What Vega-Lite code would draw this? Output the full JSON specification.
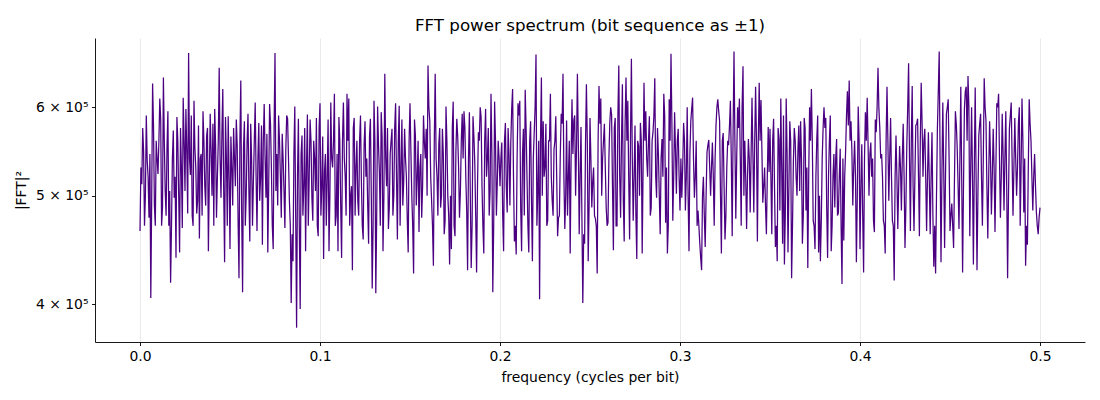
{
  "$schema": "https://vega.github.io/schema/vega-lite/v6.json",
  "width": 990,
  "height": 304,
  "autosize": {"type": "none"},
  "padding": {"left": 95, "top": 38, "right": 15, "bottom": 58},
  "background": "white",
  "title": {
    "text": "FFT power spectrum (bit sequence as ±1)",
    "font": "DejaVu Sans",
    "fontSize": 16.7,
    "fontWeight": "normal",
    "color": "black",
    "offset": 3
  },
  "data": {
    "values": [
      {"f":0.000,"p":465000},{"f":0.001,"p":512000},{"f":0.002,"p":548000},{"f":0.003,"p":500000},{"f":0.004,"p":538000},
      {"f":0.005,"p":478000},{"f":0.006,"p":405000},{"f":0.007,"p":630000},{"f":0.008,"p":490000},{"f":0.009,"p":560000},
      {"f":0.010,"p":523000},{"f":0.011,"p":611000},{"f":0.012,"p":470000},{"f":0.013,"p":638000},{"f":0.014,"p":505000},
      {"f":0.015,"p":552000},{"f":0.016,"p":470000},{"f":0.017,"p":418000},{"f":0.018,"p":540000},{"f":0.019,"p":498000},
      {"f":0.020,"p":440000},{"f":0.021,"p":560000},{"f":0.022,"p":445000},{"f":0.023,"p":530000},{"f":0.024,"p":612000},
      {"f":0.025,"p":505000},{"f":0.026,"p":548000},{"f":0.027,"p":671000},{"f":0.028,"p":522000},{"f":0.029,"p":480000},
      {"f":0.030,"p":608000},{"f":0.031,"p":530000},{"f":0.032,"p":495000},{"f":0.033,"p":458000},{"f":0.034,"p":545000},
      {"f":0.035,"p":595000},{"f":0.036,"p":510000},{"f":0.037,"p":565000},{"f":0.038,"p":446000},{"f":0.039,"p":592000},
      {"f":0.040,"p":500000},{"f":0.041,"p":470000},{"f":0.042,"p":555000},{"f":0.043,"p":520000},{"f":0.044,"p":651000},
      {"f":0.045,"p":498000},{"f":0.046,"p":623000},{"f":0.047,"p":436000},{"f":0.048,"p":540000},{"f":0.049,"p":589000},
      {"f":0.050,"p":448000},{"f":0.051,"p":530000},{"f":0.052,"p":575000},{"f":0.053,"p":510000},{"f":0.054,"p":555000},
      {"f":0.055,"p":422000},{"f":0.056,"p":634000},{"f":0.057,"p":410000},{"f":0.058,"p":583000},{"f":0.059,"p":500000},
      {"f":0.060,"p":592000},{"f":0.061,"p":455000},{"f":0.062,"p":540000},{"f":0.063,"p":515000},{"f":0.064,"p":606000},
      {"f":0.065,"p":465000},{"f":0.066,"p":581000},{"f":0.067,"p":520000},{"f":0.068,"p":452000},{"f":0.069,"p":604000},
      {"f":0.070,"p":498000},{"f":0.071,"p":445000},{"f":0.072,"p":604000},{"f":0.073,"p":530000},{"f":0.074,"p":448000},
      {"f":0.075,"p":671000},{"f":0.076,"p":545000},{"f":0.077,"p":590000},{"f":0.078,"p":520000},{"f":0.079,"p":568000},
      {"f":0.080,"p":505000},{"f":0.081,"p":550000},{"f":0.082,"p":586000},{"f":0.083,"p":495000},{"f":0.084,"p":401000},
      {"f":0.085,"p":437000},{"f":0.086,"p":601000},{"f":0.087,"p":381000},{"f":0.088,"p":586000},{"f":0.089,"p":396000},
      {"f":0.090,"p":566000},{"f":0.091,"p":510000},{"f":0.092,"p":446000},{"f":0.093,"p":591000},{"f":0.094,"p":520000},
      {"f":0.095,"p":560000},{"f":0.096,"p":475000},{"f":0.097,"p":540000},{"f":0.098,"p":587000},{"f":0.099,"p":460000},
      {"f":0.100,"p":605000},{"f":0.101,"p":510000},{"f":0.102,"p":439000},{"f":0.103,"p":545000},{"f":0.104,"p":520000},
      {"f":0.105,"p":446000},{"f":0.106,"p":606000},{"f":0.107,"p":530000},{"f":0.108,"p":617000},{"f":0.109,"p":480000},
      {"f":0.110,"p":446000},{"f":0.111,"p":560000},{"f":0.112,"p":440000},{"f":0.113,"p":606000},{"f":0.114,"p":520000},
      {"f":0.115,"p":617000},{"f":0.116,"p":611000},{"f":0.117,"p":500000},{"f":0.118,"p":429000},{"f":0.119,"p":587000},
      {"f":0.120,"p":530000},{"f":0.121,"p":495000},{"f":0.122,"p":560000},{"f":0.123,"p":515000},{"f":0.124,"p":457000},
      {"f":0.125,"p":583000},{"f":0.126,"p":540000},{"f":0.127,"p":453000},{"f":0.128,"p":586000},{"f":0.129,"p":413000},
      {"f":0.130,"p":608000},{"f":0.131,"p":409000},{"f":0.132,"p":601000},{"f":0.133,"p":525000},{"f":0.134,"p":594000},
      {"f":0.135,"p":446000},{"f":0.136,"p":643000},{"f":0.137,"p":510000},{"f":0.138,"p":467000},{"f":0.139,"p":545000},
      {"f":0.140,"p":574000},{"f":0.141,"p":500000},{"f":0.142,"p":605000},{"f":0.143,"p":457000},{"f":0.144,"p":602000},
      {"f":0.145,"p":530000},{"f":0.146,"p":490000},{"f":0.147,"p":574000},{"f":0.148,"p":520000},{"f":0.149,"p":445000},
      {"f":0.150,"p":605000},{"f":0.151,"p":500000},{"f":0.152,"p":426000},{"f":0.153,"p":566000},{"f":0.154,"p":520000},
      {"f":0.155,"p":464000},{"f":0.156,"p":545000},{"f":0.157,"p":510000},{"f":0.158,"p":558000},{"f":0.159,"p":574000},
      {"f":0.160,"p":654000},{"f":0.161,"p":583000},{"f":0.162,"p":495000},{"f":0.163,"p":433000},{"f":0.164,"p":643000},
      {"f":0.165,"p":520000},{"f":0.166,"p":556000},{"f":0.167,"p":488000},{"f":0.168,"p":574000},{"f":0.169,"p":462000},
      {"f":0.170,"p":601000},{"f":0.171,"p":500000},{"f":0.172,"p":434000},{"f":0.173,"p":448000},{"f":0.174,"p":607000},
      {"f":0.175,"p":460000},{"f":0.176,"p":586000},{"f":0.177,"p":530000},{"f":0.178,"p":505000},{"f":0.179,"p":592000},
      {"f":0.180,"p":595000},{"f":0.181,"p":520000},{"f":0.182,"p":429000},{"f":0.183,"p":594000},{"f":0.184,"p":431000},
      {"f":0.185,"p":589000},{"f":0.186,"p":535000},{"f":0.187,"p":427000},{"f":0.188,"p":570000},{"f":0.189,"p":600000},
      {"f":0.190,"p":510000},{"f":0.191,"p":444000},{"f":0.192,"p":598000},{"f":0.193,"p":540000},{"f":0.194,"p":480000},
      {"f":0.195,"p":617000},{"f":0.196,"p":410000},{"f":0.197,"p":607000},{"f":0.198,"p":480000},{"f":0.199,"p":560000},
      {"f":0.200,"p":510000},{"f":0.201,"p":558000},{"f":0.202,"p":446000},{"f":0.203,"p":581000},{"f":0.204,"p":483000},
      {"f":0.205,"p":545000},{"f":0.206,"p":558000},{"f":0.207,"p":623000},{"f":0.208,"p":455000},{"f":0.209,"p":443000},
      {"f":0.210,"p":605000},{"f":0.211,"p":608000},{"f":0.212,"p":446000},{"f":0.213,"p":574000},{"f":0.214,"p":622000},
      {"f":0.215,"p":520000},{"f":0.216,"p":445000},{"f":0.217,"p":583000},{"f":0.218,"p":437000},{"f":0.219,"p":569000},
      {"f":0.220,"p":669000},{"f":0.221,"p":505000},{"f":0.222,"p":404000},{"f":0.223,"p":638000},{"f":0.224,"p":583000},
      {"f":0.225,"p":530000},{"f":0.226,"p":470000},{"f":0.227,"p":560000},{"f":0.228,"p":617000},{"f":0.229,"p":495000},
      {"f":0.230,"p":550000},{"f":0.231,"p":589000},{"f":0.232,"p":460000},{"f":0.233,"p":480000},{"f":0.234,"p":592000},
      {"f":0.235,"p":643000},{"f":0.236,"p":467000},{"f":0.237,"p":584000},{"f":0.238,"p":520000},{"f":0.239,"p":444000},
      {"f":0.240,"p":610000},{"f":0.241,"p":584000},{"f":0.242,"p":500000},{"f":0.243,"p":643000},{"f":0.244,"p":462000},
      {"f":0.245,"p":576000},{"f":0.246,"p":401000},{"f":0.247,"p":453000},{"f":0.248,"p":629000},{"f":0.249,"p":437000},
      {"f":0.250,"p":587000},{"f":0.251,"p":488000},{"f":0.252,"p":530000},{"f":0.253,"p":477000},{"f":0.254,"p":426000},
      {"f":0.255,"p":627000},{"f":0.256,"p":611000},{"f":0.257,"p":540000},{"f":0.258,"p":580000},{"f":0.259,"p":488000},
      {"f":0.260,"p":473000},{"f":0.261,"p":581000},{"f":0.262,"p":591000},{"f":0.263,"p":447000},{"f":0.264,"p":587000},
      {"f":0.265,"p":470000},{"f":0.266,"p":654000},{"f":0.267,"p":478000},{"f":0.268,"p":629000},{"f":0.269,"p":455000},
      {"f":0.270,"p":638000},{"f":0.271,"p":608000},{"f":0.272,"p":457000},{"f":0.273,"p":663000},{"f":0.274,"p":475000},
      {"f":0.275,"p":578000},{"f":0.276,"p":439000},{"f":0.277,"p":554000},{"f":0.278,"p":581000},{"f":0.279,"p":444000},
      {"f":0.280,"p":631000},{"f":0.281,"p":595000},{"f":0.282,"p":520000},{"f":0.283,"p":589000},{"f":0.284,"p":488000},
      {"f":0.285,"p":570000},{"f":0.286,"p":637000},{"f":0.287,"p":498000},{"f":0.288,"p":545000},{"f":0.289,"p":462000},
      {"f":0.290,"p":562000},{"f":0.291,"p":617000},{"f":0.292,"p":473000},{"f":0.293,"p":444000},{"f":0.294,"p":610000},
      {"f":0.295,"p":670000},{"f":0.296,"p":475000},{"f":0.297,"p":594000},{"f":0.298,"p":502000},{"f":0.299,"p":574000},
      {"f":0.300,"p":485000},{"f":0.301,"p":498000},{"f":0.302,"p":581000},{"f":0.303,"p":485000},{"f":0.304,"p":600000},
      {"f":0.305,"p":446000},{"f":0.306,"p":583000},{"f":0.307,"p":612000},{"f":0.308,"p":498000},{"f":0.309,"p":560000},
      {"f":0.310,"p":485000},{"f":0.311,"p":453000},{"f":0.312,"p":429000},{"f":0.313,"p":520000},{"f":0.314,"p":450000},
      {"f":0.315,"p":547000},{"f":0.316,"p":561000},{"f":0.317,"p":500000},{"f":0.318,"p":558000},{"f":0.319,"p":470000},
      {"f":0.320,"p":578000},{"f":0.321,"p":610000},{"f":0.322,"p":583000},{"f":0.323,"p":444000},{"f":0.324,"p":569000},
      {"f":0.325,"p":457000},{"f":0.326,"p":530000},{"f":0.327,"p":555000},{"f":0.328,"p":608000},{"f":0.329,"p":460000},
      {"f":0.330,"p":673000},{"f":0.331,"p":477000},{"f":0.332,"p":600000},{"f":0.333,"p":611000},{"f":0.334,"p":470000},
      {"f":0.335,"p":653000},{"f":0.336,"p":560000},{"f":0.337,"p":467000},{"f":0.338,"p":562000},{"f":0.339,"p":483000},
      {"f":0.340,"p":612000},{"f":0.341,"p":483000},{"f":0.342,"p":626000},{"f":0.343,"p":455000},{"f":0.344,"p":631000},
      {"f":0.345,"p":609000},{"f":0.346,"p":493000},{"f":0.347,"p":530000},{"f":0.348,"p":462000},{"f":0.349,"p":576000},
      {"f":0.350,"p":574000},{"f":0.351,"p":462000},{"f":0.352,"p":586000},{"f":0.353,"p":450000},{"f":0.354,"p":437000},
      {"f":0.355,"p":562000},{"f":0.356,"p":611000},{"f":0.357,"p":453000},{"f":0.358,"p":434000},{"f":0.359,"p":611000},
      {"f":0.360,"p":445000},{"f":0.361,"p":583000},{"f":0.362,"p":422000},{"f":0.363,"p":537000},{"f":0.364,"p":560000},
      {"f":0.365,"p":500000},{"f":0.366,"p":578000},{"f":0.367,"p":583000},{"f":0.368,"p":453000},{"f":0.369,"p":587000},
      {"f":0.370,"p":485000},{"f":0.371,"p":431000},{"f":0.372,"p":600000},{"f":0.373,"p":623000},{"f":0.374,"p":475000},
      {"f":0.375,"p":448000},{"f":0.376,"p":562000},{"f":0.377,"p":445000},{"f":0.378,"p":437000},{"f":0.379,"p":540000},
      {"f":0.380,"p":600000},{"f":0.381,"p":587000},{"f":0.382,"p":440000},{"f":0.383,"p":560000},{"f":0.384,"p":446000},
      {"f":0.385,"p":520000},{"f":0.386,"p":488000},{"f":0.387,"p":562000},{"f":0.388,"p":483000},{"f":0.389,"p":551000},
      {"f":0.390,"p":417000},{"f":0.391,"p":456000},{"f":0.392,"p":548000},{"f":0.393,"p":620000},{"f":0.394,"p":634000},
      {"f":0.395,"p":583000},{"f":0.396,"p":490000},{"f":0.397,"p":560000},{"f":0.398,"p":436000},{"f":0.399,"p":601000},
      {"f":0.400,"p":448000},{"f":0.401,"p":556000},{"f":0.402,"p":427000},{"f":0.403,"p":594000},{"f":0.404,"p":612000},
      {"f":0.405,"p":500000},{"f":0.406,"p":558000},{"f":0.407,"p":540000},{"f":0.408,"p":464000},{"f":0.409,"p":570000},
      {"f":0.410,"p":651000},{"f":0.411,"p":575000},{"f":0.412,"p":545000},{"f":0.413,"p":475000},{"f":0.414,"p":444000},
      {"f":0.415,"p":626000},{"f":0.416,"p":495000},{"f":0.417,"p":587000},{"f":0.418,"p":475000},{"f":0.419,"p":420000},
      {"f":0.420,"p":566000},{"f":0.421,"p":467000},{"f":0.422,"p":554000},{"f":0.423,"p":485000},{"f":0.424,"p":580000},
      {"f":0.425,"p":449000},{"f":0.426,"p":554000},{"f":0.427,"p":657000},{"f":0.428,"p":465000},{"f":0.429,"p":627000},
      {"f":0.430,"p":465000},{"f":0.431,"p":578000},{"f":0.432,"p":586000},{"f":0.433,"p":460000},{"f":0.434,"p":631000},
      {"f":0.435,"p":520000},{"f":0.436,"p":574000},{"f":0.437,"p":465000},{"f":0.438,"p":570000},{"f":0.439,"p":462000},
      {"f":0.440,"p":570000},{"f":0.441,"p":432000},{"f":0.442,"p":426000},{"f":0.443,"p":574000},{"f":0.444,"p":673000},
      {"f":0.445,"p":436000},{"f":0.446,"p":606000},{"f":0.447,"p":449000},{"f":0.448,"p":592000},{"f":0.449,"p":610000},
      {"f":0.450,"p":465000},{"f":0.451,"p":492000},{"f":0.452,"p":449000},{"f":0.453,"p":595000},{"f":0.454,"p":552000},
      {"f":0.455,"p":467000},{"f":0.456,"p":626000},{"f":0.457,"p":427000},{"f":0.458,"p":598000},{"f":0.459,"p":626000},
      {"f":0.460,"p":640000},{"f":0.461,"p":460000},{"f":0.462,"p":600000},{"f":0.463,"p":434000},{"f":0.464,"p":625000},
      {"f":0.465,"p":429000},{"f":0.466,"p":566000},{"f":0.467,"p":592000},{"f":0.468,"p":470000},{"f":0.469,"p":637000},
      {"f":0.470,"p":583000},{"f":0.471,"p":458000},{"f":0.472,"p":583000},{"f":0.473,"p":481000},{"f":0.474,"p":574000},
      {"f":0.475,"p":464000},{"f":0.476,"p":605000},{"f":0.477,"p":617000},{"f":0.478,"p":478000},{"f":0.479,"p":592000},
      {"f":0.480,"p":485000},{"f":0.481,"p":595000},{"f":0.482,"p":422000},{"f":0.483,"p":574000},{"f":0.484,"p":606000},
      {"f":0.485,"p":480000},{"f":0.486,"p":587000},{"f":0.487,"p":500000},{"f":0.488,"p":580000},{"f":0.489,"p":470000},
      {"f":0.490,"p":611000},{"f":0.491,"p":483000},{"f":0.492,"p":433000},{"f":0.493,"p":452000},{"f":0.494,"p":610000},
      {"f":0.495,"p":560000},{"f":0.496,"p":485000},{"f":0.497,"p":545000},{"f":0.498,"p":483000},{"f":0.499,"p":462000},
      {"f":0.500,"p":488000},
      {"f":0.0005,"p":530000},{"f":0.0015,"p":575000},{"f":0.0025,"p":470000},{"f":0.0035,"p":590000},{"f":0.0045,"p":520000},
      {"f":0.0055,"p":545000},{"f":0.0065,"p":498000},{"f":0.0075,"p":578000},{"f":0.0085,"p":470000},{"f":0.0095,"p":540000},
      {"f":0.0105,"p":560000},{"f":0.0115,"p":585000},{"f":0.0125,"p":488000},{"f":0.0135,"p":560000},{"f":0.0145,"p":480000},
      {"f":0.0155,"p":595000},{"f":0.0165,"p":505000},{"f":0.0175,"p":470000},{"f":0.0185,"p":572000},{"f":0.0195,"p":520000},
      {"f":0.0205,"p":588000},{"f":0.0215,"p":500000},{"f":0.0225,"p":575000},{"f":0.0235,"p":468000},{"f":0.0245,"p":560000},
      {"f":0.0255,"p":598000},{"f":0.0265,"p":482000},{"f":0.0275,"p":540000},{"f":0.0285,"p":590000},{"f":0.0295,"p":470000},
      {"f":0.0305,"p":552000},{"f":0.0315,"p":482000},{"f":0.0325,"p":578000},{"f":0.0335,"p":540000},{"f":0.0345,"p":480000},
      {"f":0.0355,"p":560000},{"f":0.0365,"p":490000},{"f":0.0375,"p":575000},{"f":0.0385,"p":515000},{"f":0.0395,"p":548000},
      {"f":0.0405,"p":580000},{"f":0.0415,"p":598000},{"f":0.0425,"p":478000},{"f":0.0435,"p":560000},{"f":0.0445,"p":540000},
      {"f":0.0455,"p":568000},{"f":0.0465,"p":505000},{"f":0.0475,"p":588000},{"f":0.0485,"p":470000},{"f":0.0495,"p":520000},
      {"f":0.0505,"p":565000},{"f":0.0515,"p":490000},{"f":0.0525,"p":540000},{"f":0.0535,"p":585000},{"f":0.0545,"p":475000},
      {"f":0.0555,"p":560000},{"f":0.0565,"p":480000},{"f":0.0575,"p":552000},{"f":0.0585,"p":470000},{"f":0.0595,"p":560000},
      {"f":0.0605,"p":505000},{"f":0.0615,"p":580000},{"f":0.0625,"p":470000},{"f":0.0635,"p":560000},{"f":0.0645,"p":520000},
      {"f":0.0655,"p":540000},{"f":0.0665,"p":495000},{"f":0.0675,"p":578000},{"f":0.0685,"p":560000},{"f":0.0695,"p":540000},
      {"f":0.0705,"p":568000},{"f":0.0715,"p":510000},{"f":0.0725,"p":580000},{"f":0.0735,"p":470000},{"f":0.0745,"p":575000},
      {"f":0.0755,"p":505000},{"f":0.0765,"p":490000},{"f":0.0775,"p":560000},{"f":0.0785,"p":478000},{"f":0.0795,"p":540000},
      {"f":0.0805,"p":468000},{"f":0.0815,"p":590000},{"f":0.0825,"p":540000},{"f":0.0835,"p":470000},{"f":0.0845,"p":462000},
      {"f":0.0855,"p":545000},{"f":0.0865,"p":478000},{"f":0.0875,"p":520000},{"f":0.0885,"p":470000},{"f":0.0895,"p":545000},
      {"f":0.0905,"p":480000},{"f":0.0915,"p":575000},{"f":0.0925,"p":530000},{"f":0.0935,"p":470000},{"f":0.0945,"p":585000},
      {"f":0.0955,"p":498000},{"f":0.0965,"p":560000},{"f":0.0975,"p":505000},{"f":0.0985,"p":470000},{"f":0.0995,"p":575000},
      {"f":0.1005,"p":480000},{"f":0.1015,"p":565000},{"f":0.1025,"p":525000},{"f":0.1035,"p":470000},{"f":0.1045,"p":585000},
      {"f":0.1055,"p":500000},{"f":0.1065,"p":540000},{"f":0.1075,"p":560000},{"f":0.1085,"p":470000},{"f":0.1095,"p":545000},
      {"f":0.1105,"p":588000},{"f":0.1115,"p":490000},{"f":0.1125,"p":560000},{"f":0.1135,"p":540000},{"f":0.1145,"p":480000},
      {"f":0.1155,"p":560000},{"f":0.1165,"p":470000},{"f":0.1175,"p":510000},{"f":0.1185,"p":575000},{"f":0.1195,"p":480000},
      {"f":0.1205,"p":560000},{"f":0.1215,"p":480000},{"f":0.1225,"p":590000},{"f":0.1235,"p":470000},{"f":0.1245,"p":555000},
      {"f":0.1255,"p":520000},{"f":0.1265,"p":490000},{"f":0.1275,"p":565000},{"f":0.1285,"p":500000},{"f":0.1295,"p":470000},
      {"f":0.1305,"p":560000},{"f":0.1315,"p":480000},{"f":0.1325,"p":555000},{"f":0.1335,"p":470000},{"f":0.1345,"p":565000},
      {"f":0.1355,"p":500000},{"f":0.1365,"p":540000},{"f":0.1375,"p":575000},{"f":0.1385,"p":488000},{"f":0.1395,"p":560000},
      {"f":0.1405,"p":480000},{"f":0.1415,"p":575000},{"f":0.1425,"p":520000},{"f":0.1435,"p":560000},{"f":0.1445,"p":470000},
      {"f":0.1455,"p":585000},{"f":0.1465,"p":515000},{"f":0.1475,"p":540000},{"f":0.1485,"p":475000},{"f":0.1495,"p":560000},
      {"f":0.1505,"p":548000},{"f":0.1515,"p":470000},{"f":0.1525,"p":585000},{"f":0.1535,"p":490000},{"f":0.1545,"p":560000},
      {"f":0.1555,"p":530000},{"f":0.1565,"p":478000},{"f":0.1575,"p":590000},{"f":0.1585,"p":540000},{"f":0.1595,"p":500000},
      {"f":0.1605,"p":600000},{"f":0.1615,"p":520000},{"f":0.1625,"p":470000},{"f":0.1635,"p":560000},{"f":0.1645,"p":540000},
      {"f":0.1655,"p":480000},{"f":0.1665,"p":575000},{"f":0.1675,"p":500000},{"f":0.1685,"p":545000},{"f":0.1695,"p":475000},
      {"f":0.1705,"p":560000},{"f":0.1715,"p":480000},{"f":0.1725,"p":500000},{"f":0.1735,"p":575000},{"f":0.1745,"p":470000},
      {"f":0.1755,"p":548000},{"f":0.1765,"p":565000},{"f":0.1775,"p":478000},{"f":0.1785,"p":560000},{"f":0.1795,"p":540000},
      {"f":0.1805,"p":575000},{"f":0.1815,"p":485000},{"f":0.1825,"p":540000},{"f":0.1835,"p":500000},{"f":0.1845,"p":470000},
      {"f":0.1855,"p":565000},{"f":0.1865,"p":480000},{"f":0.1875,"p":510000},{"f":0.1885,"p":560000},{"f":0.1895,"p":588000},
      {"f":0.1905,"p":470000},{"f":0.1915,"p":560000},{"f":0.1925,"p":520000},{"f":0.1935,"p":575000},{"f":0.1945,"p":505000},
      {"f":0.1955,"p":545000},{"f":0.1965,"p":470000},{"f":0.1975,"p":560000},{"f":0.1985,"p":515000},{"f":0.1995,"p":540000},
      {"f":0.2005,"p":540000},{"f":0.2015,"p":480000},{"f":0.2025,"p":560000},{"f":0.2035,"p":510000},{"f":0.2045,"p":575000},
      {"f":0.2055,"p":490000},{"f":0.2065,"p":598000},{"f":0.2075,"p":520000},{"f":0.2085,"p":470000},{"f":0.2095,"p":540000},
      {"f":0.2105,"p":590000},{"f":0.2115,"p":488000},{"f":0.2125,"p":545000},{"f":0.2135,"p":480000},{"f":0.2145,"p":575000},
      {"f":0.2155,"p":470000},{"f":0.2165,"p":560000},{"f":0.2175,"p":495000},{"f":0.2185,"p":540000},{"f":0.2195,"p":600000},
      {"f":0.2205,"p":470000},{"f":0.2215,"p":560000},{"f":0.2225,"p":560000},{"f":0.2235,"p":500000},{"f":0.2245,"p":520000},
      {"f":0.2255,"p":580000},{"f":0.2265,"p":475000},{"f":0.2275,"p":560000},{"f":0.2285,"p":520000},{"f":0.2295,"p":480000},
      {"f":0.2305,"p":560000},{"f":0.2315,"p":520000},{"f":0.2325,"p":478000},{"f":0.2335,"p":545000},{"f":0.2345,"p":580000},
      {"f":0.2355,"p":520000},{"f":0.2365,"p":500000},{"f":0.2375,"p":480000},{"f":0.2385,"p":560000},{"f":0.2395,"p":540000},
      {"f":0.2405,"p":545000},{"f":0.2415,"p":590000},{"f":0.2425,"p":550000},{"f":0.2435,"p":560000},{"f":0.2445,"p":520000},
      {"f":0.2455,"p":480000},{"f":0.2465,"p":462000},{"f":0.2475,"p":555000},{"f":0.2485,"p":560000},{"f":0.2495,"p":490000},
      {"f":0.2505,"p":540000},{"f":0.2515,"p":515000},{"f":0.2525,"p":480000},{"f":0.2535,"p":470000},{"f":0.2545,"p":560000},
      {"f":0.2555,"p":580000},{"f":0.2565,"p":500000},{"f":0.2575,"p":560000},{"f":0.2585,"p":530000},{"f":0.2595,"p":470000},
      {"f":0.2605,"p":540000},{"f":0.2615,"p":600000},{"f":0.2625,"p":510000},{"f":0.2635,"p":575000},{"f":0.2645,"p":470000},
      {"f":0.2655,"p":590000},{"f":0.2665,"p":520000},{"f":0.2675,"p":560000},{"f":0.2685,"p":495000},{"f":0.2695,"p":580000},
      {"f":0.2705,"p":560000},{"f":0.2715,"p":520000},{"f":0.2725,"p":565000},{"f":0.2735,"p":540000},{"f":0.2745,"p":520000},
      {"f":0.2755,"p":480000},{"f":0.2765,"p":560000},{"f":0.2775,"p":500000},{"f":0.2785,"p":560000},{"f":0.2795,"p":530000},
      {"f":0.2805,"p":560000},{"f":0.2815,"p":540000},{"f":0.2825,"p":560000},{"f":0.2835,"p":480000},{"f":0.2845,"p":560000},
      {"f":0.2855,"p":590000},{"f":0.2865,"p":520000},{"f":0.2875,"p":575000},{"f":0.2885,"p":500000},{"f":0.2895,"p":540000},
      {"f":0.2905,"p":520000},{"f":0.2915,"p":590000},{"f":0.2925,"p":530000},{"f":0.2935,"p":470000},{"f":0.2945,"p":560000},
      {"f":0.2955,"p":580000},{"f":0.2965,"p":520000},{"f":0.2975,"p":548000},{"f":0.2985,"p":560000},{"f":0.2995,"p":520000},
      {"f":0.3005,"p":540000},{"f":0.3015,"p":530000},{"f":0.3025,"p":560000},{"f":0.3035,"p":520000},{"f":0.3045,"p":500000},
      {"f":0.3055,"p":545000},{"f":0.3065,"p":598000},{"f":0.3075,"p":540000},{"f":0.3085,"p":520000},{"f":0.3095,"p":470000},
      {"f":0.3105,"p":470000},{"f":0.3115,"p":440000},{"f":0.3125,"p":500000},{"f":0.3135,"p":480000},{"f":0.3145,"p":500000},
      {"f":0.3155,"p":555000},{"f":0.3165,"p":530000},{"f":0.3175,"p":530000},{"f":0.3185,"p":520000},{"f":0.3195,"p":540000},
      {"f":0.3205,"p":600000},{"f":0.3215,"p":595000},{"f":0.3225,"p":500000},{"f":0.3235,"p":560000},{"f":0.3245,"p":510000},
      {"f":0.3255,"p":480000},{"f":0.3265,"p":560000},{"f":0.3275,"p":578000},{"f":0.3285,"p":540000},{"f":0.3295,"p":570000},
      {"f":0.3305,"p":560000},{"f":0.3315,"p":540000},{"f":0.3325,"p":575000},{"f":0.3335,"p":540000},{"f":0.3345,"p":600000},
      {"f":0.3355,"p":500000},{"f":0.3365,"p":520000},{"f":0.3375,"p":520000},{"f":0.3385,"p":540000},{"f":0.3395,"p":545000},
      {"f":0.3405,"p":545000},{"f":0.3415,"p":560000},{"f":0.3425,"p":560000},{"f":0.3435,"p":560000},{"f":0.3445,"p":560000},
      {"f":0.3455,"p":550000},{"f":0.3465,"p":510000},{"f":0.3475,"p":490000},{"f":0.3485,"p":520000},{"f":0.3495,"p":525000},
      {"f":0.3505,"p":520000},{"f":0.3515,"p":560000},{"f":0.3525,"p":510000},{"f":0.3535,"p":470000},{"f":0.3545,"p":575000},
      {"f":0.3555,"p":485000},{"f":0.3565,"p":530000},{"f":0.3575,"p":590000},{"f":0.3585,"p":480000},{"f":0.3595,"p":545000},
      {"f":0.3605,"p":510000},{"f":0.3615,"p":560000},{"f":0.3625,"p":470000},{"f":0.3635,"p":575000},{"f":0.3645,"p":520000},
      {"f":0.3655,"p":548000},{"f":0.3665,"p":505000},{"f":0.3675,"p":540000},{"f":0.3685,"p":480000},{"f":0.3695,"p":575000},
      {"f":0.3705,"p":530000},{"f":0.3715,"p":520000},{"f":0.3725,"p":560000},{"f":0.3735,"p":560000},{"f":0.3745,"p":470000},
      {"f":0.3755,"p":520000},{"f":0.3765,"p":590000},{"f":0.3775,"p":500000},{"f":0.3785,"p":475000},{"f":0.3795,"p":575000},
      {"f":0.3805,"p":575000},{"f":0.3815,"p":488000},{"f":0.3825,"p":520000},{"f":0.3835,"p":590000},{"f":0.3845,"p":470000},
      {"f":0.3855,"p":545000},{"f":0.3865,"p":540000},{"f":0.3875,"p":480000},{"f":0.3885,"p":520000},{"f":0.3895,"p":470000},
      {"f":0.3905,"p":540000},{"f":0.3915,"p":520000},{"f":0.3925,"p":590000},{"f":0.3935,"p":578000},{"f":0.3945,"p":560000},
      {"f":0.3955,"p":548000},{"f":0.3965,"p":530000},{"f":0.3975,"p":520000},{"f":0.3985,"p":500000},{"f":0.3995,"p":560000},
      {"f":0.4005,"p":510000},{"f":0.4015,"p":480000},{"f":0.4025,"p":540000},{"f":0.4035,"p":560000},{"f":0.4045,"p":555000},
      {"f":0.4055,"p":545000},{"f":0.4065,"p":520000},{"f":0.4075,"p":475000},{"f":0.4085,"p":585000},{"f":0.4095,"p":600000},
      {"f":0.4105,"p":598000},{"f":0.4115,"p":540000},{"f":0.4125,"p":520000},{"f":0.4135,"p":470000},{"f":0.4145,"p":560000},
      {"f":0.4155,"p":560000},{"f":0.4165,"p":540000},{"f":0.4175,"p":520000},{"f":0.4185,"p":470000},{"f":0.4195,"p":520000},
      {"f":0.4205,"p":520000},{"f":0.4215,"p":510000},{"f":0.4225,"p":530000},{"f":0.4235,"p":540000},{"f":0.4245,"p":520000},
      {"f":0.4255,"p":490000},{"f":0.4265,"p":600000},{"f":0.4275,"p":540000},{"f":0.4285,"p":560000},{"f":0.4295,"p":510000},
      {"f":0.4305,"p":520000},{"f":0.4315,"p":580000},{"f":0.4325,"p":520000},{"f":0.4335,"p":560000},{"f":0.4345,"p":580000},
      {"f":0.4355,"p":560000},{"f":0.4365,"p":520000},{"f":0.4375,"p":520000},{"f":0.4385,"p":515000},{"f":0.4395,"p":520000},
      {"f":0.4405,"p":480000},{"f":0.4415,"p":470000},{"f":0.4425,"p":500000},{"f":0.4435,"p":620000},{"f":0.4445,"p":540000},
      {"f":0.4455,"p":520000},{"f":0.4465,"p":530000},{"f":0.4475,"p":520000},{"f":0.4485,"p":600000},{"f":0.4495,"p":540000},
      {"f":0.4505,"p":480000},{"f":0.4515,"p":470000},{"f":0.4525,"p":520000},{"f":0.4535,"p":580000},{"f":0.4545,"p":510000},
      {"f":0.4555,"p":540000},{"f":0.4565,"p":520000},{"f":0.4575,"p":510000},{"f":0.4585,"p":620000},{"f":0.4595,"p":560000},
      {"f":0.4605,"p":600000},{"f":0.4615,"p":530000},{"f":0.4625,"p":520000},{"f":0.4635,"p":530000},{"f":0.4645,"p":520000},
      {"f":0.4655,"p":500000},{"f":0.4665,"p":580000},{"f":0.4675,"p":520000},{"f":0.4685,"p":540000},{"f":0.4695,"p":600000},
      {"f":0.4705,"p":510000},{"f":0.4715,"p":520000},{"f":0.4725,"p":540000},{"f":0.4735,"p":520000},{"f":0.4745,"p":530000},
      {"f":0.4755,"p":530000},{"f":0.4765,"p":600000},{"f":0.4775,"p":540000},{"f":0.4785,"p":520000},{"f":0.4795,"p":545000},
      {"f":0.4805,"p":540000},{"f":0.4815,"p":510000},{"f":0.4825,"p":500000},{"f":0.4835,"p":590000},{"f":0.4845,"p":540000},
      {"f":0.4855,"p":530000},{"f":0.4865,"p":540000},{"f":0.4875,"p":530000},{"f":0.4885,"p":600000},{"f":0.4895,"p":530000},
      {"f":0.4905,"p":560000},{"f":0.4915,"p":540000},{"f":0.4925,"p":470000},{"f":0.4935,"p":530000},{"f":0.4945,"p":580000},
      {"f":0.4955,"p":520000},{"f":0.4965,"p":520000},{"f":0.4975,"p":510000},{"f":0.4985,"p":470000},{"f":0.4995,"p":478000}
    ]
  },
  "mark": {"type": "line", "color": "#4B0082", "strokeWidth": 1.25, "clip": true},
  "encoding": {
    "x": {
      "field": "f",
      "type": "quantitative",
      "scale": {"domain": [-0.025, 0.525], "nice": false, "zero": false},
      "axis": {
        "values": [0, 0.1, 0.2, 0.3, 0.4, 0.5],
        "format": ".1f",
        "title": "frequency (cycles per bit)",
        "grid": true,
        "gridColor": "#e4e4e4",
        "gridWidth": 0.8,
        "titlePadding": 8
      }
    },
    "y": {
      "field": "p",
      "type": "quantitative",
      "scale": {"type": "log", "domain": [370000, 692000], "nice": false},
      "axis": {
        "values": [400000, 500000, 600000],
        "labelExpr": "(datum.value / 100000) + ' × 10⁵'",
        "title": "|FFT|²",
        "grid": false,
        "titlePadding": 7
      }
    }
  },
  "config": {
    "view": {"stroke": null},
    "axis": {
      "labelFont": "DejaVu Sans",
      "labelFontSize": 13.9,
      "labelColor": "black",
      "labelPadding": 3.5,
      "titleFont": "DejaVu Sans",
      "titleFontSize": 13.9,
      "titleFontWeight": "normal",
      "titleColor": "black",
      "domainColor": "black",
      "domainWidth": 0.9,
      "tickColor": "black",
      "tickSize": 3.5,
      "tickWidth": 0.9
    }
  }
}
